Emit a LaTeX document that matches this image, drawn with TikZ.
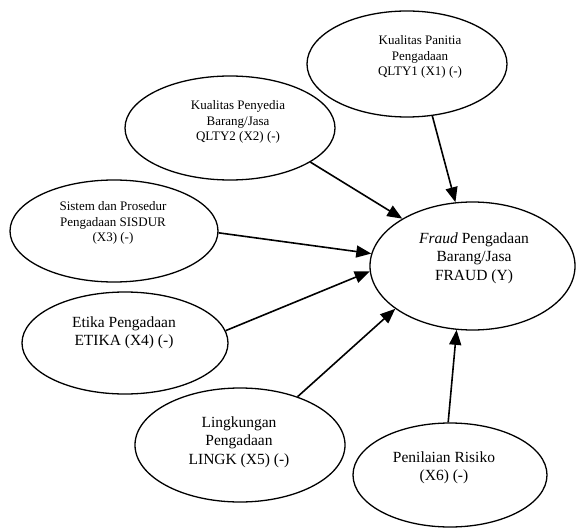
\documentclass[tikz,border=0pt]{standalone}
\usepackage{fontspec}
\setmainfont{Liberation Serif}
\usetikzlibrary{arrows.meta,shapes.geometric}
\begin{document}
\begin{tikzpicture}[x=1bp,y=-1bp,
  ell/.style={draw, line width=1.3bp, ellipse, inner sep=0pt, minimum width=#1},
  lbl/.style={align=center, inner sep=0pt},
  small/.style={font=\fontsize{13bp}{15.5bp}\selectfont},
  big/.style={font=\fontsize{15.5bp}{18.5bp}\selectfont},
  conn/.style={line width=1.6bp, -{Triangle[length=15bp,width=12bp]}}]
\useasboundingbox (0,0) rectangle (576,528);
% ellipses
\node[ell=200bp, minimum height=106bp] (q1) at (407,64) {};
\node[ell=210bp, minimum height=104bp] (q2) at (230,128) {};
\node[ell=208bp, minimum height=102bp] (sis) at (114,231) {};
\node[ell=206bp, minimum height=102bp] (eti) at (125,343) {};
\node[ell=210bp, minimum height=114bp] (lin) at (240,445) {};
\node[ell=194bp, minimum height=104bp] (pen) at (450,475) {};
\node[ell=205bp, minimum height=128bp] (fr) at (472.5,266) {};
% texts
\node[lbl, small] (t1) at (420,57) {Kualitas Panitia\\Pengadaan\\QLTY1 (X1) (-)};
\node[lbl, small] (t2) at (238,122) {Kualitas Penyedia\\Barang/Jasa\\QLTY2 (X2) (-)};
\node[lbl, small] (t3) at (113,223) {Sistem dan Prosedur\\Pengadaan SISDUR\\(X3) (-)};
\node[lbl, big] (t4) at (124,333) {Etika Pengadaan\\ETIKA (X4) (-)};
\node[lbl, big] (t5) at (239,442) {Lingkungan\\Pengadaan\\LINGK (X5) (-)};
\node[lbl, big] (t6) at (444,468) {Penilaian Risiko\\(X6) (-)};
\node[lbl, big] (t7) at (474,258) {\textit{Fraud} Pengadaan\\Barang/Jasa\\FRAUD (Y)};
% connectors
\draw[conn] (q1.-64) -- (fr.105);
\draw[conn] (q2.-23) -- (fr.146);
\draw[conn] (sis.-1) -- (fr.173);
\draw[conn] (eti.7) -- (fr.183);
\draw[conn] (lin.40) -- (fr.209);
\draw[conn] (pen.92) -- (fr.256);
\end{tikzpicture}
\end{document}
